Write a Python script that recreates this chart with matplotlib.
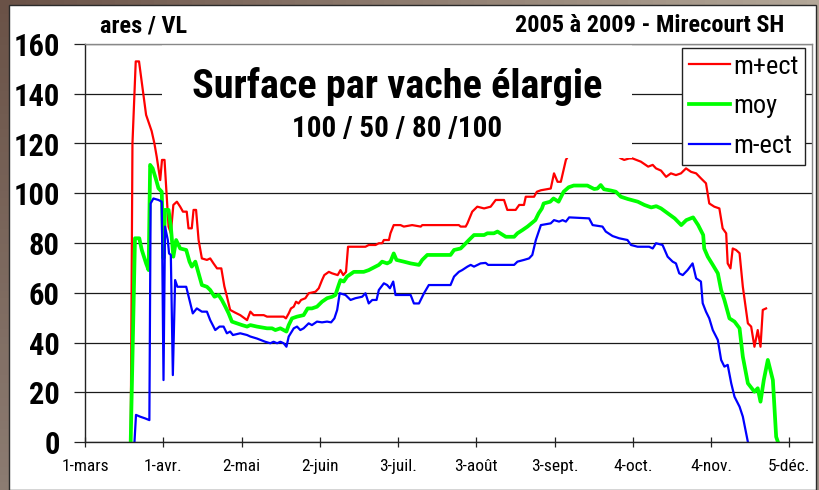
import numpy as np
import matplotlib
matplotlib.use("Agg")
import matplotlib.pyplot as plt
from matplotlib import font_manager as fm
from matplotlib.patches import Rectangle

# ---------------- data (days counted from 1 March) ----------------
tick_labels = ['1-mars', '1-avr.', '2-mai', '2-juin', '3-juil.', '3-août',
               '3-sept.', '4-oct.', '4-nov.', '5-déc.']
y_ticks = [0, 20, 40, 60, 80, 100, 120, 140, 160]

red_days = [18.1, 18.8, 20.1, 21.4, 22.9, 24.2, 26.4, 27.5, 28.4, 29.8, 30.5, 31.5, 32.4, 33.1, 34.0,
            35.0, 36.4, 37.7, 38.8, 40.3, 41.0, 42.3, 43.0, 44.0, 45.0, 46.3, 48.3, 49.6, 50.9, 52.3,
            54.0, 55.2, 56.2, 57.5, 59.5, 61.5, 64.2, 65.5, 66.8, 70.8, 72.1, 78.7, 79.6, 80.7, 81.6,
            82.7, 83.6, 84.6, 85.6, 87.3, 88.6, 91.3, 92.6, 93.9, 94.8, 96.6, 97.9, 100.1, 101.2, 102.3,
            103.4, 104.2, 111.1, 112.4, 115.1, 116.4, 117.7, 118.4, 120.4, 121.0, 122.3, 125.0, 126.3,
            129.6, 133.0, 133.6, 148.1, 148.8, 150.8, 151.5, 153.4, 155.4, 158.1, 160.7, 162.7, 166.0,
            167.3, 170.6, 172.0, 173.9, 174.6, 177.9, 179.0, 180.6, 184.5, 185.8, 187.2, 188.5, 190.5,
            192.0, 196.0, 200.0, 204.0, 208.0, 211.0, 212.3, 213.6, 215.6, 216.9, 220.2, 223.1, 224.9,
            226.2, 228.2, 230.2, 232.1, 234.1, 236.1, 238.1, 240.1, 242.1, 244.0, 246.0, 247.3, 249.3,
            251.3, 252.6, 254.0, 254.6, 255.7, 256.6, 257.9, 259.3, 260.6, 262.6, 263.9, 265.2, 266.5,
            267.6, 268.5, 269.8]
red_vals = [0, 120, 153, 153, 141.5, 131.5, 125, 120, 114.7, 105.3, 113.4, 113.4, 98.6, 86.6, 83.9,
            95.3, 96.6, 94.6, 92.6, 92.6, 85.9, 85.9, 93.3, 93.3, 81.2, 73.8, 73.2, 73.8, 71.8, 69.8,
            69.8, 62.6, 58.6, 53.1, 52.0, 51.0, 49.0, 52.4, 51.0, 51.0, 50.4, 50.4, 49.7, 51.7, 53.7,
            54.4, 56.4, 55.7, 57.1, 57.8, 59.8, 60.4, 61.8, 65.1, 67.1, 68.4, 67.8, 67.1, 69.1, 67.1,
            68.4, 78.5, 78.5, 79.2, 79.2, 79.9, 79.9, 81.2, 81.2, 83.9, 87.2, 87.2, 86.6,
            87.2, 86.6, 87.2, 87.2, 86.6, 86.6, 87.9, 92.6, 94.6, 93.9, 94.6, 97.3, 97.3,
            93.3, 93.3, 95.3, 95.3, 98.6, 98.6, 100.6, 101.2, 101.9, 108.0, 104.6, 104.6, 113.4,
            116, 117, 118, 117, 116, 115, 114.0, 113.4, 114.0, 114.0, 112.7, 110.7, 111.4,
            110.0, 109.1, 106.6, 108.0, 107.3, 108.0, 110.0, 108.6, 108.0, 106.0, 104.0, 95.9, 94.6,
            93.9, 85.9, 83.9, 71.8, 69.8, 77.8, 77.2, 75.9, 62.4, 47.7, 46.4, 38.3, 45.0,
            38.3, 53.1, 53.7]

green_days = [18.1, 19.8, 21.5, 22.5, 24.2, 25.2, 25.8, 26.8, 28.2, 29.1, 30.4, 31.1, 31.7, 33.1, 34.0,
              35.0, 36.1, 37.7, 40.1, 41.4, 42.3, 43.7, 45.0, 46.3, 48.3, 49.6, 51.3, 52.9, 54.2, 55.6,
              56.9, 58.2, 60.2, 62.2, 64.2, 65.5, 68.1, 72.1, 74.1, 75.4, 77.4, 78.7, 79.8, 80.7, 82.0,
              84.0, 86.6, 88.2, 89.9, 91.9, 93.9, 95.9, 97.9, 99.2, 100.5, 101.2, 102.5, 103.8, 106.5,
              110.4, 112.4, 115.1, 116.4, 117.7, 119.7, 121.0, 122.3, 123.4, 126.3, 129.0, 132.3, 133.6,
              135.6, 144.8, 146.2, 148.8, 150.2, 152.1, 154.1, 158.1, 159.4, 162.0, 163.4, 166.7, 170.0,
              171.3, 173.3, 175.3, 178.4, 179.7, 181.0, 181.7, 184.3, 185.6, 187.6, 189.6, 191.6, 193.6,
              199.0, 201.7, 203.0, 204.3, 205.6, 208.3, 210.3, 212.3, 215.0, 219.0, 221.6, 224.3, 226.3,
              228.2, 230.9, 233.6, 236.2, 238.2, 240.9, 242.9, 244.9, 245.3, 246.7, 248.7, 250.7, 252.0,
              253.3, 255.3, 257.3, 259.3, 260.6, 262.6, 265.2, 266.5, 267.6, 268.9, 270.5, 272.5, 273.8,
              274.5]
green_vals = [0, 81.9, 81.9, 77.2, 71.8, 69.1, 111.4, 110.0, 105.3, 102.0, 100.6, 73.8, 93.3, 93.3, 86.6,
              74.5, 81.2, 77.8, 77.2, 72.5, 70.5, 72.5, 67.8, 63.1, 62.4, 61.1, 58.4, 59.1, 57.1, 54.4,
              51.7, 48.4, 47.7, 47.0, 46.4, 47.0, 46.4, 45.7, 45.7, 45.0, 45.7, 45.0, 44.4, 47.0, 49.7,
              50.4, 51.0, 53.7, 53.7, 54.4, 56.4, 57.8, 58.4, 59.1, 63.1, 65.1, 64.5, 66.5, 68.4,
              68.4, 69.1, 70.5, 71.2, 72.5, 71.8, 72.5, 75.8, 73.2, 72.5, 71.8, 71.2, 73.2,
              75.2, 75.2, 77.2, 77.8, 79.2, 81.2, 83.2, 83.2, 83.9, 83.9, 84.6, 82.5, 82.5,
              83.9, 85.2, 86.6, 89.2, 91.9, 93.9, 95.9, 96.6, 97.9, 96.6, 100.6, 102.4, 103.1,
              103.1, 101.7, 101.9, 103.3, 101.6, 101.1, 100.6, 98.6, 97.7, 96.6, 95.3, 94.3, 94.8,
              93.9, 91.9, 89.9, 87.2, 89.2, 90.3, 87.2, 83.2, 77.8, 74.5, 71.2, 67.8, 61.1,
              57.1, 49.7, 48.4, 45.7, 34.3, 23.6, 20.2, 21.6, 16.2, 24.9, 33.0, 24.9, 2.1,
              0]

blue_days = [19.6, 20.2, 21.8, 23.8, 25.5, 26.0, 27.1, 29.1, 30.4, 31.1, 31.7, 32.8, 33.3, 34.0, 34.8,
             35.7, 36.6, 40.1, 41.4, 42.7, 44.3, 46.3, 48.3, 49.6, 51.6, 53.3, 54.9, 56.2, 57.5, 58.6,
             61.5, 64.2, 65.5, 68.1, 71.4, 73.4, 74.7, 76.1, 77.4, 78.7, 79.8, 80.7, 82.7, 84.0, 85.3,
             86.6, 88.6, 89.9, 91.9, 93.9, 95.9, 97.5, 98.8, 99.9, 100.9, 103.2, 105.2, 107.1, 109.8,
             111.1, 112.4, 113.8, 115.5, 116.4, 118.4, 119.7, 120.8, 122.1, 123.0, 129.0, 130.3, 132.3,
             134.3, 136.2, 144.8, 146.2, 148.1, 149.4, 151.5, 152.8, 154.1, 156.7, 158.7, 159.7, 170.0,
             171.3, 173.9, 175.9, 177.2, 178.6, 180.6, 184.5, 185.8, 187.8, 189.2, 190.5, 191.8, 199.7,
             201.1, 205.0, 206.3, 209.0, 211.6, 214.9, 216.3, 218.9, 223.5, 224.9, 226.2, 228.8, 230.8,
             232.8, 234.1, 235.4, 236.8, 238.7, 240.7, 242.1, 244.0, 244.7, 246.0, 247.3, 248.7, 250.7,
             252.0, 253.3, 254.6, 256.0, 257.3, 259.3, 260.6, 262.6]
blue_vals = [0, 10.9, 10.2, 9.5, 8.8, 95.9, 97.9, 97.3, 96.6, 24.9, 86.6, 81.2, 75.8, 75.2, 26.9,
             65.1, 62.4, 62.4, 57.1, 51.7, 53.7, 52.4, 52.4, 49.0, 45.0, 46.4, 46.4, 43.7, 44.4, 43.0,
             43.7, 43.0, 42.4, 41.6, 40.3, 39.7, 40.3, 39.7, 40.3, 39.7, 38.3, 42.4, 45.7, 46.4, 45.0,
             45.7, 47.7, 47.0, 48.4, 48.1, 48.4, 48.1, 49.7, 53.1, 59.8, 59.1, 57.1, 57.8, 58.4,
             59.8, 55.7, 57.1, 57.1, 61.1, 63.8, 63.1, 61.8, 64.5, 59.1, 59.1, 55.7, 55.7,
             59.8, 63.1, 63.1, 66.5, 68.4, 69.1, 70.5, 71.2, 70.5, 71.8, 72.0, 71.2, 71.2,
             72.5, 73.2, 73.8, 75.2, 81.2, 87.2, 87.9, 89.2, 88.6, 89.2, 88.6, 90.3, 89.9,
             87.2, 86.6, 84.6, 82.8, 81.9, 81.2, 79.2, 78.5, 78.5, 77.8, 79.9, 79.2, 74.5,
             72.5, 71.8, 67.8, 67.1, 69.1, 71.8, 65.8, 64.5, 55.8, 52.4, 49.7, 45.0, 41.0,
             33.0, 30.3, 31.0, 23.6, 18.2, 14.2, 10.2, 0]

series_labels = ['m+ect', 'moy', 'm-ect']

# ---------------- fonts: look for a narrow / condensed sans ----------------
def find_narrow():
    prefs = ['liberation sans narrow', 'arial narrow', 'roboto condensed', 'open sans condensed']
    entries = fm.fontManager.ttflist
    for p in prefs:
        reg = bold = None
        for f in entries:
            nm = f.name.lower()
            fn = f.fname.lower()
            key = nm if p in nm else (fn if p.replace(' ', '') in fn.replace('-', '').replace('_', '') else '')
            if not key or f.style != 'normal':
                continue
            w = f.weight if isinstance(f.weight, int) else (700 if 'bold' in str(f.weight) else 400)
            if 350 <= w <= 450 and reg is None:
                reg = f.fname
            if 650 <= w <= 750 and bold is None:
                bold = f.fname
        if reg and bold:
            return reg, bold
    return None

found = find_narrow()
if found:
    FP_R = lambda s: fm.FontProperties(fname=found[0], size=s)
    FP_B = lambda s: fm.FontProperties(fname=found[1], size=s)
    SZ = dict(title=29, sub=21, head=17.5, ytick=22, xtick=12.5, leg=19)
else:
    FP_R = lambda s: fm.FontProperties(family=['Liberation Sans', 'DejaVu Sans'], size=s)
    FP_B = lambda s: fm.FontProperties(family=['Liberation Sans', 'DejaVu Sans'], weight='bold', size=s)
    SZ = dict(title=25, sub=18.5, head=15.5, ytick=20, xtick=11, leg=16)
plt.rcParams['font.family'] = ['Liberation Sans', 'DejaVu Sans']

W, H = 820, 490
fig = plt.figure(figsize=(W / 100, H / 100), dpi=100)

# background brown gradient frame
bg = fig.add_axes([0, 0, 1, 1], zorder=-10)
tl = np.array([0x6a, 0x52, 0x47]) / 255
bl = np.array([0x8c, 0x7c, 0x72]) / 255
tr = np.array([0xb3, 0xa7, 0x98]) / 255
br = np.array([0x9a, 0x8e, 0x84]) / 255
u = np.linspace(0, 1, 64)[None, :, None]
v = np.linspace(0, 1, 64)[:, None, None]
img = (1 - u) * (1 - v) * tl + u * (1 - v) * tr + (1 - u) * v * bl + u * v * br
bg.imshow(img, aspect='auto', extent=[0, 1, 0, 1])
bg.axis('off')
fig.patches.append(Rectangle((9 / W, 0), (816 - 9) / W, (H - 5) / H, transform=fig.transFigure,
                             facecolor='white', edgecolor='#2a2a2a', lw=1.0, zorder=-5))

ax = fig.add_axes([85 / W, (H - 442) / H, 727 / W, 398 / H])
ax.set_facecolor('white')

ax.plot(red_days, red_vals, color='#ff0000', lw=1.6, label=series_labels[0], zorder=2)
ax.plot(green_days, green_vals, color='#00ff00', lw=2.7, label=series_labels[1], zorder=2.05)
ax.plot(blue_days, blue_vals, color='#0000ff', lw=1.6, label=series_labels[2], zorder=2.1)

ax.set_xlim(0, 288)
ax.set_ylim(0, 160)
ax.set_yticks(y_ticks)
ax.set_yticklabels([str(t) for t in y_ticks])
for lab in ax.get_yticklabels():
    lab.set_fontproperties(FP_B(SZ['ytick']))
ax.set_xticks(np.arange(len(tick_labels)) * 31)
ax.set_xticklabels(tick_labels)
for lab in ax.get_xticklabels():
    lab.set_fontproperties(FP_R(SZ['xtick']))

ax.grid(axis='y', color='#1a1a1a', lw=0.9)
ax.set_axisbelow(True)
ax.tick_params(axis='y', direction='out', length=8, width=0.9, pad=10, color='#222222')
ax.tick_params(axis='x', direction='inout', length=7, width=0.9, pad=9, color='#222222')
for s in ['left', 'bottom']:
    ax.spines[s].set_color('#222222')
    ax.spines[s].set_linewidth(1.0)
for s in ['top', 'right']:
    ax.spines[s].set_color('#888888')
    ax.spines[s].set_linewidth(1.0)

# white title box hiding grid / curve as in the reference
ax.add_patch(Rectangle(((162 - 85) / 727, (442 - 158) / 398), (632 - 162) / 727, 1 - (442 - 158) / 398,
                       transform=ax.transAxes, facecolor='white', edgecolor='none', zorder=2.3))
ax.text((397 - 85) / 727, (442 - 86) / 398, 'Surface par vache élargie', transform=ax.transAxes,
        ha='center', va='center', fontproperties=FP_B(SZ['title']), zorder=3)
ax.text((397 - 85) / 727, (442 - 129) / 398, '100 / 50 / 80 /100', transform=ax.transAxes,
        ha='center', va='center', fontproperties=FP_B(SZ['sub']), zorder=3)

leg = ax.legend(loc='upper right', bbox_to_anchor=((805 - 85) / 727, (442 - 48) / 398),
                prop=FP_R(SZ['leg']), frameon=True,
                fancybox=False, framealpha=1, edgecolor='#222222', handlelength=1.55,
                handletextpad=0.12, labelspacing=0.6, borderpad=0.25, borderaxespad=0)
leg.get_frame().set_linewidth(1.0)
leg.set_zorder(5)

fig.text(100 / W, 1 - 26 / H, 'ares / VL', fontproperties=FP_B(SZ['head']), ha='left', va='center')
fig.text(784 / W, 1 - 26 / H, '2005 à 2009 - Mirecourt SH', fontproperties=FP_B(SZ['head']),
         ha='right', va='center')

fig.savefig('out.png', dpi=100)
